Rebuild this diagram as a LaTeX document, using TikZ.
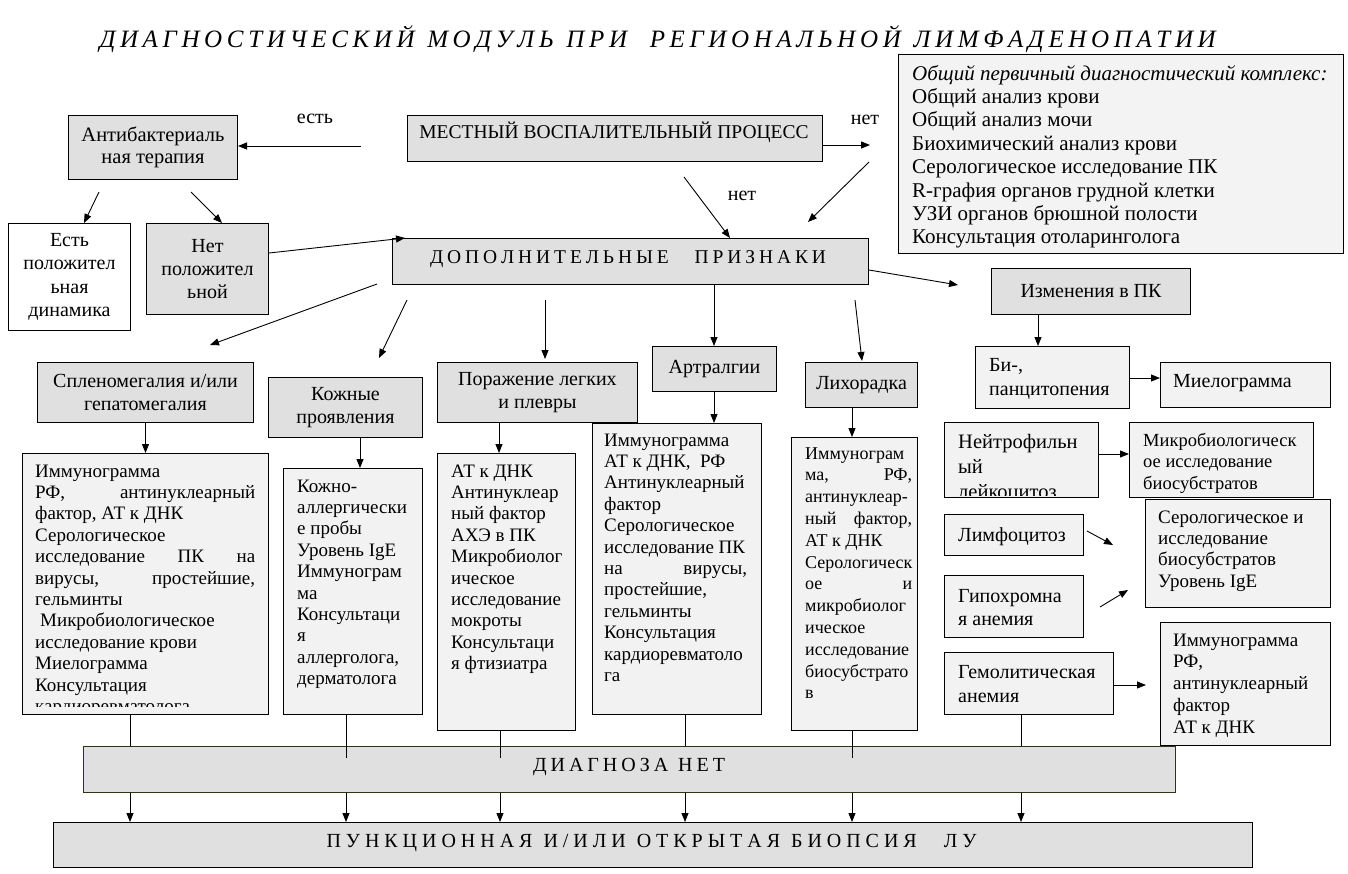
\documentclass[tikz,border=0pt]{standalone}
\usepackage{fontspec}
\setmainfont{Liberation Serif}
\usetikzlibrary{arrows.meta}
\definecolor{gbox}{RGB}{224,224,224}
\definecolor{lbox}{RGB}{242,242,242}
\newcommand\fA{\fontsize{20}{23.4}\selectfont}
\newcommand\fB{\fontsize{19}{21.4}\selectfont}
\newcommand\fC{\fontsize{18.5}{21.5}\selectfont}
\newcommand\jst[2]{\hbox to #1pt{#2}}
\makeatletter
\newcommand\lsw[1]{\@tfor\lsw@c:=#1\do{\lsw@c\hfil}}
\makeatother
\begin{document}
\begin{tikzpicture}[x=1pt,y=-1pt,
 bx/.style={draw, line width=1pt, inner sep=0pt, anchor=north west},
 gb/.style={bx, fill=gbox},
 lb/.style={bx, fill=lbox},
 wb/.style={bx, fill=white},
 tx/.style={inner sep=0pt, anchor=north west, align=left},
 arr/.style={-{Triangle[length=9pt,width=7pt]}, line width=0.9pt},
 ln/.style={line width=0.9pt}]
\useasboundingbox (0,0) rectangle (1348,873);

% title
\node[anchor=base, inner sep=0pt] (title) at (660,47) {\itshape\fontsize{25}{30}\selectfont\hbox to 1121pt{\lsw{ДИАГНОСТИЧЕСКИЙ}\hskip8pt\lsw{МОДУЛЬ}\hskip8pt\lsw{ПРИ}\hskip18pt\lsw{РЕГИОНАЛЬНОЙ}\hskip8pt\lsw{ЛИМФАДЕНОПАТИИ}}};

% top row
\node[gb, minimum width=169pt, minimum height=64pt, align=center, font=\fontsize{20.5}{22}\selectfont] (ab) at (68,115) {Антибактериаль\\ная терапия};
\node[gb, minimum width=415pt, minimum height=46pt] (mvp) at (407,115) {};
\node[anchor=base, inner sep=0pt, font=\fontsize{19.5}{22}\selectfont] (mvpt) at (614,138) {МЕСТНЫЙ ВОСПАЛИТЕЛЬНЫЙ ПРОЦЕСС};
\node[lb, minimum width=445pt, minimum height=199pt, fill={rgb,255:red,243;green,243;blue,243}] (obs) at (898,54) {};
\node[tx, font=\fontsize{21}{23.4}\selectfont] (obst) at (912,63.6) {\strut\textit{Общий первичный диагностический комплекс:}\\Общий анализ крови\\Общий анализ мочи\\Биохимический анализ крови\\Серологическое исследование ПК\\R-графия органов грудной клетки\\УЗИ органов брюшной полости\\Консультация отоларинголога};

\node[anchor=base, inner sep=0pt, font=\fA] (lest) at (315,123) {есть};
\node[anchor=base, inner sep=0pt, font=\fA] (lnet1) at (865,124) {нет};
\node[anchor=base, inner sep=0pt, font=\fA] (lnet2) at (742,200) {нет};

\node[wb, minimum width=122pt, minimum height=107pt, align=center, font=\fA] (ep) at (8,223) {Есть\\положител\\ьная\\динамика};
\node[gb, minimum width=122pt, minimum height=91pt, align=center, font=\fA] (np) at (146,223) {Нет\\положител\\ьной};

\node[gb, minimum width=476pt, minimum height=46pt] (dp) at (392,238) {};
\node[anchor=base, inner sep=0pt, font=\fontsize{19.5}{22}\selectfont] (dpt) at (630,263) {\hbox to 400pt{\lsw{ДОПОЛНИТЕЛЬНЫЕ}\hskip22pt\lsw{ПРИЗНАКИ}}};

% second row: categories
\node[gb, minimum width=216pt, minimum height=60pt, align=center, font=\fontsize{20}{23}\selectfont] (spl) at (37,362) {Спленомегалия и/или\\гепатомегалия};
\node[gb, minimum width=154pt, minimum height=60pt, align=center, font=\fontsize{20}{23}\selectfont] (kzh) at (268,377) {Кожные\\проявления};
\node[gb, minimum width=200pt, minimum height=60pt, align=center, font=\fontsize{20}{23}\selectfont] (por) at (437,362) {Поражение легких\\и плевры};
\node[gb, minimum width=124pt, minimum height=45pt, font=\fA] (art) at (652,346) {Артралгии};
\node[gb, minimum width=112pt, minimum height=45pt, font=\fA] (lih) at (805,362) {Лихорадка};
\node[gb, minimum width=199pt, minimum height=46pt, font=\fA] (izm) at (991,268) {Изменения в ПК};

% detail boxes
\node[lb, minimum width=246pt, minimum height=261pt] (spld) at (22,453) {};
\begin{scope}
\clip (22,453) rectangle (268,706);
\node[tx, font=\fB] (spldt) at (35,461.9) {\strut Иммунограмма\\\jst{220}{РФ,\hfill антинуклеарный}\\фактор, АТ к ДНК\\Серологическое\\\jst{220}{исследование\hfill ПК\hfill на}\\\jst{220}{вирусы,\hfill простейшие,}\\гельминты\\\hspace*{5pt}Микробиологическое\\исследование крови\\Миелограмма\\Консультация\\кардиоревматолога};
\end{scope}

\node[lb, minimum width=139pt, minimum height=246pt] (kzhd) at (283,468) {};
\node[tx, font=\fB] (kzhdt) at (297,476.9) {\strut Кожно-\\аллергически\\е пробы\\Уровень IgE\\Иммунограм\\ма\\Консультаци\\я\\аллерголога,\\дерматолога};

\node[lb, minimum width=138pt, minimum height=277pt] (pord) at (437,453) {};
\node[tx, font=\fB] (pordt) at (451,461.9) {\strut АТ к ДНК\\Антинуклеар\\ный фактор\\АХЭ в ПК\\Микробиолог\\ическое\\исследование\\мокроты\\Консультаци\\я фтизиатра};

\node[lb, minimum width=169pt, minimum height=291pt] (artd) at (592,423) {};
\node[tx, font=\fB] (artdt) at (604,430.9) {\strut Иммунограмма\\АТ к ДНК,\ \ РФ\\Антинуклеарный\\фактор\\Серологическое\\исследование ПК\\\jst{143}{на\hfill вирусы,}\\простейшие,\\гельминты\\Консультация\\кардиоревматоло\\га};

\node[lb, minimum width=126pt, minimum height=293pt] (lihd) at (791,437) {};
\node[tx, font=\fontsize{18}{21.8}\selectfont] (lihdt) at (805,443.7) {\strut Иммунограм\\\jst{107}{ма,\hfill РФ,}\\антинуклеар-\\\jst{107}{ный\hfill фактор,}\\АТ к ДНК\\Серологическ\\\jst{107}{ое\hfill и}\\микробиолог\\ическое\\исследование\\биосубстрато\\в};

% right column
\node[lb, minimum width=154pt, minimum height=62pt] (bi) at (975,346) {};
\node[tx, font=\fontsize{20}{24}\selectfont] (bit) at (989,354.2) {\strut Би-,\\панцитопения};
\node[lb, minimum width=170pt, minimum height=45pt] (mie) at (1160,362) {};
\node[anchor=base west, inner sep=0pt, font=\fA] (miet) at (1173,387) {Миелограмма};

\node[lb, minimum width=154pt, minimum height=75pt] (nei) at (944,422) {};
\begin{scope}
\clip (944,422) rectangle (1098,495);
\node[tx, font=\fontsize{20.5}{25}\selectfont] (neit) at (958,430.5) {\strut Нейтрофильн\\ый\\лейкоцитоз};
\end{scope}
\node[lb, minimum width=184pt, minimum height=75pt] (mik) at (1129,422) {};
\node[tx, font=\fC] (mikt) at (1143,431) {\strut Микробиологическ\\ое исследование\\биосубстратов};

\node[lb, minimum width=185pt, minimum height=108pt] (ser) at (1145,499) {};
\node[tx, font=\fB] (sert) at (1158,508) {\strut Серологическое и\\исследование\\биосубстратов\\Уровень IgE};

\node[lb, minimum width=139pt, minimum height=41pt] (lim) at (944,514) {};
\node[anchor=base west, inner sep=0pt, font=\fA] (limt) at (958,541) {Лимфоцитоз};
\node[lb, minimum width=139pt, minimum height=62pt] (gip) at (944,575) {};
\node[tx, font=\fontsize{20}{23}\selectfont] (gipt) at (958,585.9) {\strut Гипохромна\\я анемия};
\node[lb, minimum width=169pt, minimum height=62pt] (gem) at (944,652) {};
\node[tx, font=\fontsize{20}{24}\selectfont] (gemt) at (958,661.2) {\strut Гемолитическая\\анемия};
\node[lb, minimum width=170pt, minimum height=123pt] (imm) at (1160,622) {};
\node[tx, font=\fontsize{19}{21.7}\selectfont] (immt) at (1173,630.8) {\strut Иммунограмма\\РФ,\\антинуклеарный\\фактор\\АТ к ДНК};

% bottom
\node[gb, minimum width=1092pt, minimum height=46pt, draw={rgb,255:red,50;green,50;blue,20}] (dn) at (83,746) {};
\node[anchor=base, inner sep=0pt, font=\fontsize{20}{24}\selectfont] (dnt) at (631,771) {\hbox to 196pt{\lsw{ДИАГНОЗА}\hskip6pt\lsw{НЕТ}}};
\node[gb, minimum width=1199pt, minimum height=45pt] (pb) at (53,822) {};
\node[anchor=base, inner sep=0pt, font=\fontsize{20}{24}\selectfont] (pbt) at (654,847) {\hbox to 655pt{\lsw{ПУНКЦИОННАЯ}\hskip6pt\lsw{И/ИЛИ}\hskip6pt\lsw{ОТКРЫТАЯ}\hskip6pt\lsw{БИОПСИЯ}\hskip22pt\lsw{ЛУ}}};

% coordinates
\coordinate (cEst) at (361,146);
\coordinate (cNet) at (870,145);
\coordinate (c1s) at (684,177);
\coordinate (c1e) at (730,238);
\coordinate (c2s) at (869,162);
\coordinate (c2e) at (808,222);
\coordinate (c3s) at (99,192);
\coordinate (c3e) at (84,0);
\coordinate (c4s) at (191,192);
\coordinate (c4e) at (222,0);
\coordinate (c5s) at (0,253);
\coordinate (c6s) at (377,284);
\coordinate (c6e) at (210,345);
\coordinate (c7s) at (407,300);
\coordinate (c7e) at (379,358);
\coordinate (c8s) at (545,300);
\coordinate (c9) at (714,0);
\coordinate (c10s) at (855,300);
\coordinate (c10e) at (862,361);
\coordinate (c11s) at (0,270);
\coordinate (c11e) at (958,285);
\coordinate (kK) at (360,0);
\coordinate (kP) at (499,0);
\coordinate (kL) at (852,0);
\coordinate (kI) at (1038,0);
\coordinate (hB) at (0,378);
\coordinate (hN) at (0,454);
\coordinate (cLs) at (1087,531);
\coordinate (cLe) at (1113,545);
\coordinate (cGs) at (1100,607);
\coordinate (cGe) at (1128,590);
\coordinate (hG) at (0,685);
\coordinate (cGme) at (1146,685);
\coordinate (k1) at (130,0);
\coordinate (k2) at (346,0);
\coordinate (k3) at (500,0);
\coordinate (k4) at (685,0);
\coordinate (k5) at (852,0);
\coordinate (k6) at (1021,0);

% connectors
\draw[arr] (cEst) -- (ab.east |- cEst);
\draw[arr] (mvp.east |- cNet) -- (cNet);
\draw[arr] (c1s) -- (c1e);
\draw[arr] (c2s) -- (c2e);
\draw[arr] (c3s) -- (ep.north -| c3e);
\draw[arr] (c4s) -- (np.north -| c4e);
\draw[arr] (np.east |- c5s) -- ([xshift=13pt]dp.north west);
\draw[arr] (c6s) -- (c6e);
\draw[arr] (c7s) -- (c7e);
\draw[arr] (c8s) -- ([yshift=3pt]por.north -| c8s);
\draw[arr] (dp.south -| c9) -- (art.north -| c9);
\draw[arr] (c10s) -- (c10e);
\draw[arr] (dp.east |- c11s) -- (c11e);

\draw[arr] (spl.south) -- (spld.north -| spl.south);
\draw[arr] (kzh.south -| kK) -- (kzhd.north -| kK);
\draw[arr] (por.south -| kP) -- (pord.north -| kP);
\draw[arr] (art.south -| c9) -- (artd.north -| c9);
\draw[arr] (lih.south -| kL) -- (lihd.north -| kL);
\draw[arr] (izm.south -| kI) -- (bi.north -| kI);
\draw[arr] (bi.east |- hB) -- (mie.west |- hB);
\draw[arr] (nei.east |- hN) -- (mik.west |- hN);
\draw[arr] (cLs) -- (cLe);
\draw[arr] (cGs) -- (cGe);
\draw[arr] (gem.east |- hG) -- (cGme);

\draw[ln] (k1 |- spld.south) -- (k1 |- dn.north);
\draw[ln] (k2 |- kzhd.south) -- ([yshift=-12pt]k2 |- dn.north);
\draw[ln] (k3 |- pord.south) -- ([yshift=-12pt]k3 |- dn.north);
\draw[ln] (k4 |- artd.south) -- (k4 |- dn.north);
\draw[ln] (k5 |- lihd.south) -- ([yshift=-12pt]k5 |- dn.north);
\draw[ln] (k6 |- gem.south) -- (k6 |- dn.north);
\foreach \k in {k1,k2,k3,k4,k5,k6}
  \draw[arr] (\k |- dn.south) -- (\k |- pb.north);
\end{tikzpicture}
\end{document}
